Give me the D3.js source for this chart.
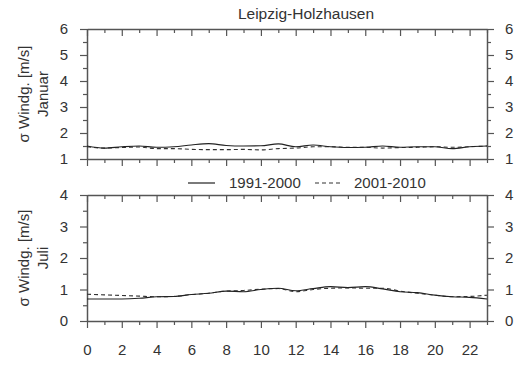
<!DOCTYPE html>
<html><head><meta charset="utf-8">
<script src="https://cdn.jsdelivr.net/npm/d3@7"></script>
<style>body{margin:0;background:#fff}svg{display:block}text{font-family:"Liberation Sans",Arial,sans-serif;fill:#333}</style>
</head><body><svg id="c" width="516" height="367"></svg>
<script>
const hours = d3.range(0,24);
const janSeries1 = [1.50,1.42,1.47,1.50,1.45,1.47,1.54,1.59,1.52,1.50,1.51,1.58,1.47,1.54,1.47,1.44,1.45,1.50,1.45,1.47,1.47,1.40,1.47,1.50];
const janSeries2 = [1.47,1.42,1.44,1.46,1.40,1.40,1.37,1.36,1.36,1.37,1.35,1.40,1.42,1.47,1.47,1.45,1.45,1.42,1.44,1.45,1.47,1.45,1.47,1.50];
const julSeries1 = [0.70,0.70,0.70,0.72,0.77,0.78,0.84,0.88,0.95,0.93,1.00,1.04,0.96,1.03,1.09,1.06,1.09,1.02,0.93,0.90,0.82,0.77,0.75,0.70];
const julSeries2 = [0.85,0.83,0.81,0.79,0.77,0.78,0.84,0.88,0.95,0.97,1.01,1.03,0.93,1.00,1.04,1.05,1.04,1.04,0.95,0.88,0.82,0.77,0.78,0.82];
const legendLabels = ["1991-2000","2001-2010"];
const xTicks = d3.range(0,23,2);
const title = "Leipzig-Holzhausen";

const svg = d3.select("#c");
const L=87, R=487;
const x = d3.scaleLinear().domain([0,23]).range([L,R]);
const axisColor="#555";
const FS=15;

function panel(top,bottom,yDom,yMajor,yMinor,s1,s2,label2,showXLabels){
  const y = d3.scaleLinear().domain(yDom).range([bottom,top]);
  const g = svg.append("g");
  const style = sel => { sel.selectAll(".domain").attr("stroke",axisColor).attr("stroke-width",1.5);
    sel.selectAll(".tick line").attr("stroke",axisColor).attr("stroke-width",1.2);
    sel.selectAll("text").attr("font-size",FS).attr("fill","#333"); };
  const minor = s=>{s.select(".domain").remove(); s.selectAll("line").attr("stroke",axisColor).attr("stroke-width",1.2);};
  const xb = g.append("g").attr("transform",`translate(0,${bottom})`)
    .call(d3.axisBottom(x).tickValues(xTicks).tickSize(7).tickSizeOuter(0).tickPadding(16).tickFormat(showXLabels?d3.format("d"):""));
  style(xb);
  g.append("g").attr("transform",`translate(0,${bottom})`)
    .call(d3.axisBottom(x).tickValues(d3.range(1,24,2)).tickSize(4).tickSizeOuter(0).tickFormat("")).call(minor);
  const xt = g.append("g").attr("transform",`translate(0,${top})`)
    .call(d3.axisTop(x).tickValues(xTicks).tickSize(-7).tickSizeOuter(0).tickFormat(""));
  style(xt);
  g.append("g").attr("transform",`translate(0,${top})`)
    .call(d3.axisTop(x).tickValues(d3.range(1,24,2)).tickSize(-4).tickSizeOuter(0).tickFormat("")).call(minor);
  const yl = g.append("g").attr("transform",`translate(${L},0)`)
    .call(d3.axisLeft(y).tickValues(yMajor).tickSize(7).tickSizeOuter(0).tickPadding(12).tickFormat(d3.format("d")));
  style(yl);
  g.append("g").attr("transform",`translate(${L},0)`)
    .call(d3.axisLeft(y).tickValues(yMinor).tickSize(4).tickSizeOuter(0).tickFormat("")).call(minor);
  const yr = g.append("g").attr("transform",`translate(${R},0)`)
    .call(d3.axisRight(y).tickValues(yMajor).tickSize(7).tickSizeOuter(0).tickPadding(11).tickFormat(d3.format("d")));
  style(yr);
  g.append("g").attr("transform",`translate(${R},0)`)
    .call(d3.axisRight(y).tickValues(yMinor).tickSize(4).tickSizeOuter(0).tickFormat("")).call(minor);
  const line = d3.line().x((d,i)=>x(hours[i])).y(d=>y(d)).curve(d3.curveMonotoneX);
  g.append("path").datum(s2).attr("d",line).attr("fill","none").attr("stroke","#333").attr("stroke-width",1.1).attr("stroke-dasharray","4,3");
  g.append("path").datum(s1).attr("d",line).attr("fill","none").attr("stroke","#222").attr("stroke-width",1.1);
  const cy=(top+bottom)/2;
  g.append("text").attr("transform",`translate(29,${cy}) rotate(-90)`).attr("text-anchor","middle").attr("font-size",FS).text("σ  Windg. [m/s]");
  g.append("text").attr("transform",`translate(48,${cy}) rotate(-90)`).attr("text-anchor","middle").attr("font-size",FS).text(label2);
}
panel(29,159,[1,6],[1,2,3,4,5,6],[1.5,2.5,3.5,4.5,5.5],janSeries1,janSeries2,"Januar",false);
panel(195,321,[0,4],[0,1,2,3,4],[0.5,1.5,2.5,3.5],julSeries1,julSeries2,"Juli",true);

svg.append("text").attr("x",306).attr("y",19).attr("text-anchor","middle").attr("font-size",15.5).text(title);
const ly=183;
svg.append("line").attr("x1",188).attr("x2",215).attr("y1",ly).attr("y2",ly).attr("stroke","#222").attr("stroke-width",1.2);
svg.append("text").attr("x",229).attr("y",ly+5).attr("font-size",FS).text(legendLabels[0]);
svg.append("line").attr("x1",315).attr("x2",341).attr("y1",ly).attr("y2",ly).attr("stroke","#333").attr("stroke-width",1.2).attr("stroke-dasharray","4,3");
svg.append("text").attr("x",354).attr("y",ly+5).attr("font-size",FS).text(legendLabels[1]);
</script></body></html>
